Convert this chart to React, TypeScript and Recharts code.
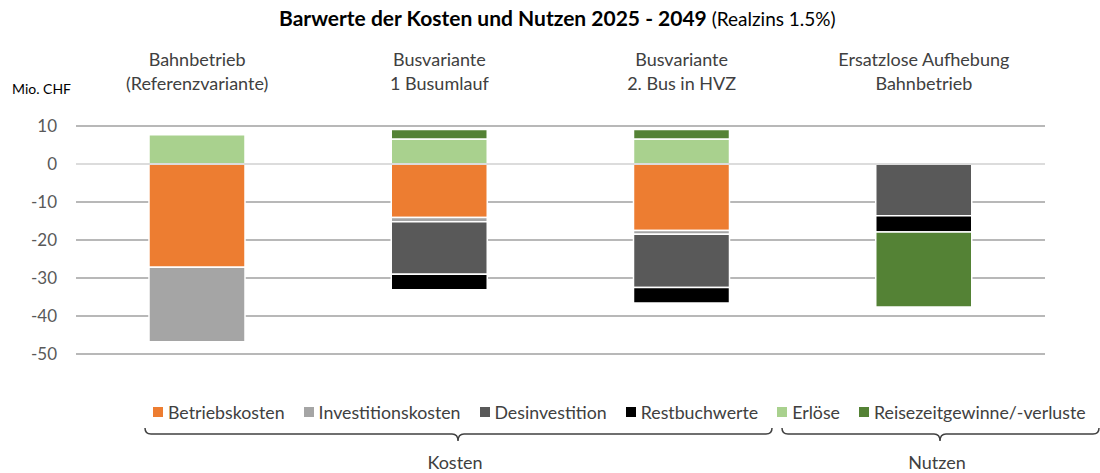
import { Bar, BarChart, CartesianGrid, ReferenceLine, XAxis, YAxis } from "recharts";

const categories = [
  ["Bahnbetrieb", "(Referenzvariante)"],
  ["Busvariante", "1 Busumlauf"],
  ["Busvariante", "2. Bus in HVZ"],
  ["Ersatzlose Aufhebung", "Bahnbetrieb"],
];

const betriebskosten = [-27.2, -14.1, -17.5, 0];
const investitionskosten = [-19.6, -1.1, -1.0, 0];
const desinvestition = [0, -13.8, -14.0, -13.6];
const restbuchwerte = [0, -4.1, -4.1, -4.3];
const erloese = [7.7, 6.6, 6.6, 0];
const reisezeit = [0, 2.5, 2.5, -19.7];

const yTicks = [-50, -40, -30, -20, -10, 0, 10];

const series = [
  { key: "betrieb", name: "Betriebskosten", color: "#ED7D31", values: betriebskosten },
  { key: "invest", name: "Investitionskosten", color: "#A5A5A5", values: investitionskosten },
  { key: "desinvest", name: "Desinvestition", color: "#595959", values: desinvestition },
  { key: "rest", name: "Restbuchwerte", color: "#000000", values: restbuchwerte },
  { key: "erloese", name: "Erlöse", color: "#A9D18E", values: erloese },
  { key: "reisezeit", name: "Reisezeitgewinne/-verluste", color: "#548235", values: reisezeit },
];

const data = categories.map((c, i) => {
  const row: Record<string, string | number> = { name: c.join("|") };
  series.forEach((s) => {
    row[s.key] = s.values[i];
  });
  return row;
});

const FONT = "Lato, 'Noto Sans', sans-serif";
const TEXT = "#404040";

function TopTick(props: any) {
  const { x, payload } = props;
  const [l1, l2] = String(payload.value).split("|");
  return (
    <g>
      <text x={x} y={59} textAnchor="middle" dominantBaseline="central" fontSize={18} fill={TEXT} fontFamily={FONT}>
        {l1}
      </text>
      <text x={x} y={83} textAnchor="middle" dominantBaseline="central" fontSize={18} fill={TEXT} fontFamily={FONT}>
        {l2}
      </text>
    </g>
  );
}

function ChartLegend() {
  return (
    <div
      style={{
        position: "absolute",
        top: 401,
        left: 0,
        display: "flex",
        paddingLeft: 153,
        fontFamily: FONT,
        fontSize: 17.75,
        color: TEXT,
        whiteSpace: "nowrap",
      }}
    >
      {series.map((s) => (
        <div key={s.key} style={{ display: "flex", alignItems: "center", marginRight: 19 }}>
          <span style={{ width: 10, height: 10, background: s.color, marginRight: 5, display: "inline-block" }} />
          <span>{s.name}</span>
        </div>
      ))}
    </div>
  );
}

export default function App() {
  return (
    <div style={{ position: "absolute", left: 0, top: 0, width: 1100, height: 473, background: "#fff", fontFamily: FONT }}>
      <div style={{ position: "absolute", top: 5, left: 279, fontSize: 19, color: "#000", whiteSpace: "nowrap" }}>
        <b style={{ fontSize: 21 }}>Barwerte der Kosten und Nutzen 2025 - 2049</b> (Realzins 1.5%)
      </div>
      <div style={{ position: "absolute", left: 12, top: 80, fontSize: 14, color: "#000" }}>Mio. CHF</div>
      <BarChart
        width={1100}
        height={473}
        data={data}
        stackOffset="sign"
        margin={{ top: 46, right: 55, bottom: 119, left: 0 }}
      >
        <CartesianGrid vertical={false} stroke="#a0a0a0" strokeWidth={1.5} />
        <XAxis dataKey="name" orientation="top" height={80} axisLine={false} tickLine={false} tick={<TopTick />} interval={0} />
        <YAxis
          domain={[-50, 10]}
          ticks={yTicks}
          axisLine={false}
          tickLine={false}
          tickSize={0}
          tickMargin={19}
          width={76}
          tick={{ fontSize: 17, fill: "#595959", fontFamily: FONT }}
        />
        {series.map((s) => (
          <Bar
            key={s.key}
            dataKey={s.key}
            name={s.name}
            stackId="a"
            fill={s.color}
            stroke="#fff"
            strokeWidth={1.5}
            barSize={96}
            isAnimationActive={false}
          />
        ))}
        <ReferenceLine y={0} stroke="#dcdcdc" strokeWidth={2} />
      </BarChart>
      <ChartLegend />
      <svg width={1100} height={473} style={{ position: "absolute", left: 0, top: 0, pointerEvents: "none" }}>
        <path d="M145,428 Q145,434 151,434 L452,434 Q458,434 458,441 Q458,434 464,434 L766,434 Q772,434 772,428" fill="none" stroke={TEXT} strokeWidth={1.5} />
        <path d="M782,428 Q782,434 788,434 L934,434 Q940,434 940,441 Q940,434 946,434 L1093,434 Q1099,434 1099,428" fill="none" stroke={TEXT} strokeWidth={1.5} />
        <text x={455} y={462} textAnchor="middle" dominantBaseline="central" fontSize={18} fill={TEXT} fontFamily={FONT}>
          Kosten
        </text>
        <text x={937} y={462} textAnchor="middle" dominantBaseline="central" fontSize={18} fill={TEXT} fontFamily={FONT}>
          Nutzen
        </text>
      </svg>
    </div>
  );
}
